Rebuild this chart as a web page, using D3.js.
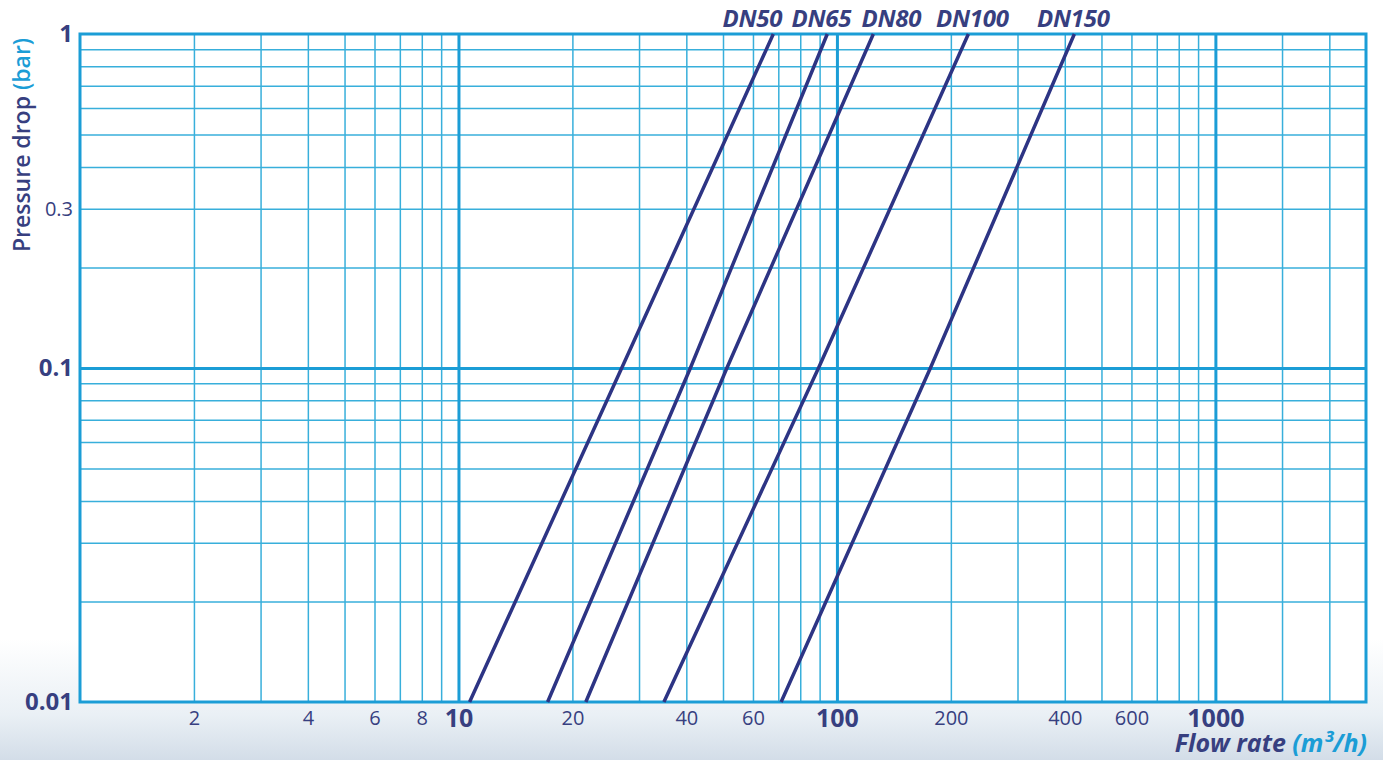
<!DOCTYPE html>
<html>
<head>
<meta charset="utf-8">
<script src="https://cdn.jsdelivr.net/npm/d3@7"></script>
<style>
  html, body { margin: 0; padding: 0; background: #fff; }
  svg { display: block; font-family: "Open Sans", "Noto Sans", sans-serif; }
</style>
</head>
<body>
<div id="chart"></div>
<script>
// valve sizes and their pressure drop curves, [flow m3/h, dp bar]
const series = ['DN50', 'DN65', 'DN80', 'DN100', 'DN150'];
const dn50  = [[10.7, 0.01], [27.0, 0.1], [67.9, 1]];
const dn65  = [[17.2, 0.01], [41.0, 0.1], [94.3, 1]];
const dn80  = [[21.7, 0.01], [51.2, 0.1], [124.8, 1]];
const dn100 = [[34.9, 0.01], [89.4, 0.1], [222.5, 1]];
const dn150 = [[71.2, 0.01], [176.6, 0.1], [424, 1]];
const curves = [dn50, dn65, dn80, dn100, dn150];

const xTicks = [2, 4, 6, 8, 10, 20, 40, 60, 100, 200, 400, 600, 1000];
const xMajor = [10, 100, 1000];
const xMinor = [2, 3, 4, 5, 6, 7, 8, 9, 20, 30, 40, 50, 60, 70, 80, 90,
                200, 300, 400, 500, 600, 700, 800, 900, 1500, 2000];
const yTicks = [0.01, 0.1, 0.3, 1];
const yMajor = [0.1];
const yMinor = [0.02, 0.03, 0.04, 0.05, 0.06, 0.07, 0.08, 0.09,
                0.2, 0.3, 0.4, 0.5, 0.6, 0.7, 0.8, 0.9];

const width = 1383, height = 760;
const margin = {top: 34, right: 17, bottom: 58, left: 80};
const W = width - margin.left - margin.right;
const H = height - margin.top - margin.bottom;

const font = '"Open Sans", "Noto Sans", sans-serif';
const navy = '#2d3484';
const textNavy = '#373f80';
const cyan = '#1b9dd6';
const cyanLight = '#38afdb';

const svg = d3.select('#chart').append('svg')
  .attr('width', width)
  .attr('height', height);

const defs = svg.append('defs');
const bg = defs.append('linearGradient').attr('id', 'bg')
  .attr('x1', 0).attr('y1', 0).attr('x2', 0).attr('y2', 1);
bg.append('stop').attr('offset', '0.84').attr('stop-color', '#ffffff');
bg.append('stop').attr('offset', '0.94').attr('stop-color', '#eaf0f5');
bg.append('stop').attr('offset', '1').attr('stop-color', '#d3dde8');
svg.append('rect').attr('width', width).attr('height', height).attr('fill', 'url(#bg)');

const g = svg.append('g').attr('transform', `translate(${margin.left},${margin.top})`);
g.append('rect').attr('width', W).attr('height', H).attr('fill', '#fff');

const x = d3.scaleLog().domain([1, 2500]).range([0, W]);
const y = d3.scaleLog().domain([0.01, 1]).range([H, 0]);

// minor grid
g.append('g').attr('transform', `translate(0,${H})`)
  .call(d3.axisBottom(x).tickValues(xMinor).tickSize(-H).tickFormat(''))
  .call(a => a.select('.domain').remove())
  .call(a => a.selectAll('line').attr('stroke', cyanLight).attr('stroke-width', 1.5));
g.append('g')
  .call(d3.axisLeft(y).tickValues(yMinor).tickSize(-W).tickFormat(''))
  .call(a => a.select('.domain').remove())
  .call(a => a.selectAll('line').attr('stroke', cyanLight).attr('stroke-width', 1.5));

// major grid
g.append('g').attr('transform', `translate(0,${H})`)
  .call(d3.axisBottom(x).tickValues(xMajor).tickSize(-H).tickFormat(''))
  .call(a => a.select('.domain').remove())
  .call(a => a.selectAll('line').attr('stroke', cyan).attr('stroke-width', 3));
g.append('g')
  .call(d3.axisLeft(y).tickValues(yMajor).tickSize(-W).tickFormat(''))
  .call(a => a.select('.domain').remove())
  .call(a => a.selectAll('line').attr('stroke', cyan).attr('stroke-width', 3));

g.append('rect').attr('width', W).attr('height', H)
  .attr('fill', 'none').attr('stroke', cyan).attr('stroke-width', 3);

// tick labels
const xAx = g.append('g').attr('transform', `translate(0,${H})`)
  .call(d3.axisBottom(x).tickValues(xTicks).tickSize(0).tickFormat(d => d))
  .attr('font-family', font);
xAx.select('.domain').remove();
xAx.selectAll('text')
  .attr('fill', textNavy)
  .attr('y', d => xMajor.includes(d) ? 25 : 23)
  .attr('dy', 0)
  .style('font-size', d => xMajor.includes(d) ? '25px' : '20px')
  .style('font-weight', d => xMajor.includes(d) ? 700 : 400);

const yAx = g.append('g')
  .call(d3.axisLeft(y).tickValues(yTicks).tickSize(0).tickPadding(7).tickFormat(d => d))
  .attr('font-family', font);
yAx.select('.domain').remove();
yAx.selectAll('text')
  .attr('fill', textNavy)
  .style('font-size', d => d === 0.3 ? '20px' : '24px')
  .style('font-weight', d => d === 0.3 ? 400 : 700);

// curves
const line = d3.line().x(d => x(d[0])).y(d => y(d[1]));
g.append('g').selectAll('path')
  .data(curves)
  .join('path')
  .attr('d', line)
  .attr('fill', 'none')
  .attr('stroke', navy)
  .attr('stroke-width', 3.5);

// series labels above the top ends
const labelDx = [-21, -6, 18, 4, -1];
g.append('g').selectAll('text')
  .data(series)
  .join('text')
  .attr('x', (d, i) => x(curves[i][curves[i].length - 1][0]) + labelDx[i])
  .attr('y', -7)
  .attr('text-anchor', 'middle')
  .attr('fill', textNavy)
  .style('font-size', '24px')
  .style('font-weight', 700)
  .style('font-style', 'italic')
  .style('letter-spacing', '-0.3px')
  .text(d => d);

// axis titles
const yt = svg.append('text')
  .attr('transform', `translate(30,${margin.top + 111}) rotate(-90)`)
  .attr('text-anchor', 'middle')
  .style('font-size', '23px')
  .style('font-weight', 600);
yt.append('tspan').attr('fill', textNavy).text('Pressure drop ');
yt.append('tspan').attr('fill', cyan).text('(bar)');

const xt = svg.append('text')
  .attr('x', margin.left + W + 1)
  .attr('y', 752)
  .attr('text-anchor', 'end')
  .style('font-size', '25px')
  .style('font-weight', 700)
  .style('font-style', 'italic');
xt.append('tspan').attr('fill', textNavy).text('Flow rate ');
xt.append('tspan').attr('fill', cyan).text('(m³/h)');
</script>
</body>
</html>
